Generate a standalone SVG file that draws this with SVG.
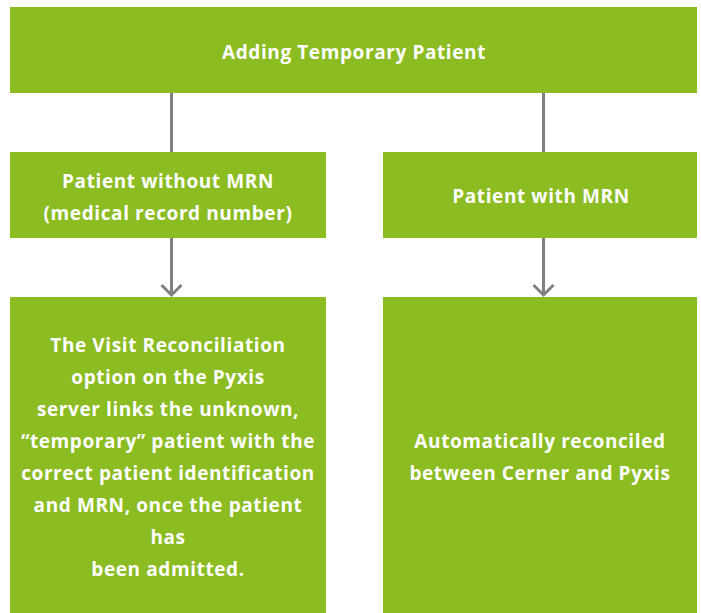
<svg xmlns="http://www.w3.org/2000/svg" width="701" height="613" viewBox="0 0 701 613">
<style>
.box{fill:#8BBC22}
.t{font-family:"Open Sans","Noto Sans",sans-serif;font-weight:bold;font-size:19px;letter-spacing:0.6px;fill:#fff;text-anchor:middle}
.c{stroke:#808080;stroke-width:3;fill:none}
</style>
<g id="connectors">
<line class="c" x1="171.5" y1="93" x2="171.5" y2="152"/>
<line class="c" x1="543.5" y1="93" x2="543.5" y2="152"/>
<path class="c" d="M171.5,238 V293 M161.5,285 L171.5,295 L181.5,285"/>
<path class="c" d="M543.5,238 V293 M533.5,285 L543.5,295 L553.5,285"/>
</g>
<g id="top">
<rect class="box" x="10" y="7" width="687" height="86"/>
<text class="t" x="354" y="59">Adding Temporary Patient</text>
</g>
<g id="mid-left">
<rect class="box" x="10" y="152" width="316" height="86"/>
<text class="t" x="168" y="188">Patient without MRN</text>
<text class="t" x="168" y="220">(medical record number)</text>
</g>
<g id="mid-right">
<rect class="box" x="383" y="152" width="314" height="86"/>
<text class="t" x="541" y="203">Patient with MRN</text>
</g>
<g id="bottom-left">
<rect class="box" x="10" y="297" width="316" height="316"/>
<text class="t" x="168" y="352">The Visit Reconciliation</text>
<text class="t" x="168" y="384">option on the Pyxis</text>
<text class="t" x="168" y="416">server links the unknown,</text>
<text class="t" x="168" y="448">“temporary” patient with the</text>
<text class="t" x="168" y="480">correct patient identification</text>
<text class="t" x="168" y="512">and MRN, once the patient</text>
<text class="t" x="168" y="544">has</text>
<text class="t" x="168" y="576">been admitted.</text>
</g>
<g id="bottom-right">
<rect class="box" x="383" y="297" width="314" height="316"/>
<text class="t" x="540" y="448">Automatically reconciled</text>
<text class="t" x="540" y="480">between Cerner and Pyxis</text>
</g>
</svg>
